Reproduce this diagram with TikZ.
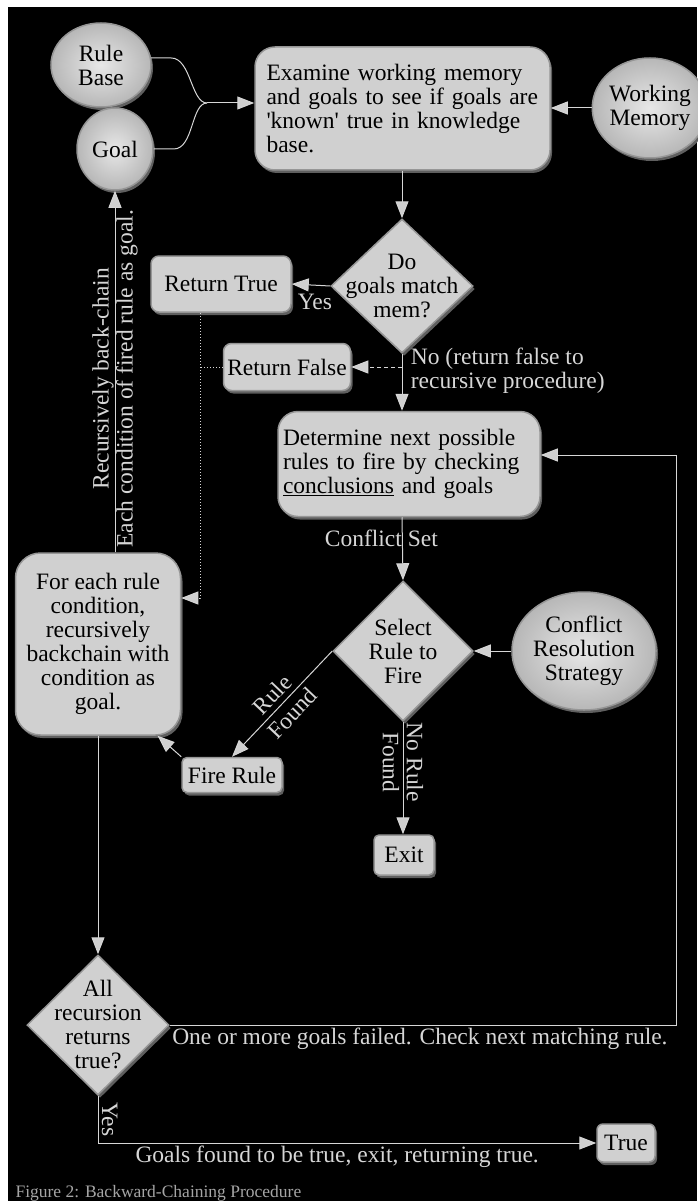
\documentclass[tikz,border=0pt]{standalone}
\usepackage{fontspec}
\setmainfont{Liberation Serif}
\usetikzlibrary{arrows.meta,shapes.geometric,shadows}
\definecolor{boxfill}{RGB}{208,208,208}
\definecolor{boxrim}{RGB}{150,150,150}
\definecolor{boxshade}{RGB}{95,95,95}
\definecolor{wire}{RGB}{214,214,214}
\definecolor{captext}{RGB}{165,165,165}
\tikzset{
  every node/.style={font=\fontsize{23.5}{24}\selectfont},
  schaduw/.style={drop shadow={shadow xshift=2pt,shadow yshift=-3pt,fill=boxshade,opacity=1}},
  blok/.style={rectangle, rounded corners=8pt, fill=boxfill, draw=boxrim, line width=1.5pt,
    inner sep=0pt, align=center, schaduw},
  bal/.style={ellipse, inner sep=0pt, draw=boxrim, line width=1.5pt, align=center,
    inner color=boxfill!50!white, outer color=boxfill!88!black, schaduw},
  ruit/.style={diamond, inner sep=0pt, fill=boxfill, draw=boxrim, line width=1.5pt, schaduw},
  lbl/.style={text=wire},
  lijn/.style={draw=wire, line width=1pt},
  pijl/.style={lijn, -{Triangle[length=17pt,width=13pt,fill=boxfill]}},
}
\begin{document}
\begin{tikzpicture}[x=1pt, y=-1pt]
\useasboundingbox (0,0) rectangle (697,1201);
\fill[black] (8,7) rectangle (697,1201);

\node[bal, minimum width=100pt, minimum height=84pt] (rulebase) at (101,65) {Rule\\Base};
\node[bal, minimum width=76pt, minimum height=82pt] (goal) at (115,149) {Goal};
\node[blok, rounded corners=20pt, text width=272pt, inner xsep=11.5pt, minimum height=123pt, align=left]
  (examine) at (402.5,108.5) {Examine working memory\\and goals to see if goals are\\\textquotesingle known\textquotesingle\ true in knowledge\\base.};
\node[bal, minimum width=94pt, minimum height=100pt] (workmem) at (650,108) {Working\\Memory};

\node[ruit, minimum width=142pt, minimum height=134pt] (match) at (402,286) {};
\node[align=center] (matchtxt) at (match) {Do\\goals match\\mem?};
\node[blok, minimum width=140pt, minimum height=56pt] (rettrue) at (221,284) {Return True};
\node[blok, minimum width=127pt, minimum height=47pt] (retfalse) at (287,367) {Return False};

\node[blok, rounded corners=20pt, text width=252pt, inner xsep=5pt, minimum height=105pt, align=left]
  (determine) at (409,464) {Determine next possible\\rules to fire by checking\\\underline{conclusions} and goals};

\node[ruit, minimum width=140pt, minimum height=140pt] (select) at (403,651) {};
\node[align=center] (selecttxt) at (select) {Select\\Rule to\\Fire};
\node[bal, minimum width=120pt, minimum height=118pt] (conflres) at (584,651) {Conflict\\Resolution\\Strategy};

\node[blok, rounded corners=25pt, minimum width=165pt, minimum height=182pt] (foreach) at (98,644)
  {For each rule\\condition,\\recursively\\backchain with\\condition as\\goal.};
\node[blok, rounded corners=5pt, minimum width=100pt, minimum height=35pt] (firerule) at (232,775) {Fire Rule};
\node[blok, rounded corners=5pt, minimum width=60pt, minimum height=40pt] (exit) at (404,855) {Exit};

\node[ruit, minimum width=142pt, minimum height=140pt] (allrec) at (98,1025) {};
\node[align=center] (allrectxt) at (allrec) {All\\recursion\\returns\\true?};
\node[blok, rounded corners=6pt, minimum width=58pt, minimum height=38pt] (truebox) at (626,1143) {True};

\coordinate (merge) at (207,103);
\coordinate (dottop) at (200,313);
\coordinate (dotbend) at (200,598);
\coordinate (loopc) at (676,455);

\draw[lijn] (rulebase.8) -- ++(20,0) .. controls +(20,0) and +(-16,0) .. (merge);
\draw[lijn] (goal.east) -- ++(20,0) .. controls +(20,0) and +(-16,0) .. (merge);
\draw[pijl] (merge) -- (examine.west |- merge);
\draw[pijl] (workmem.west) -- (examine.east |- workmem.west);
\draw[pijl] (examine.south -| match.north) -- (match.north);

\draw[pijl] (match.west) -- node[lbl, below=5pt, pos=0.4] {Yes} (rettrue.east);
\draw[pijl] (match.south) -- node[lbl, anchor=west, align=left, pos=0.3, xshift=5pt]
  {No (return false to\\recursive procedure)} (match.south |- determine.north);
\draw[pijl, dash pattern=on 4pt off 3pt] (match.south |- retfalse.east) -- (retfalse.east);
\draw[lijn, dotted] (retfalse.west) -- (retfalse.west -| dottop);
\draw[pijl, dotted] (dottop) |- (foreach.east |- dotbend);

\draw[pijl] (match.south |- determine.south) -- node[lbl, pos=0.33, xshift=-21pt] {Conflict Set} (select.north);
\draw[pijl] (conflres.west) -- (select.east);
\draw[pijl] (select.west) -- node[lbl, sloped, align=center, midway] {Rule\\[3pt]Found} (firerule.north);
\draw[pijl] (select.south) -- node[lbl, pos=0.36, rotate=-90, align=center] {No Rule\\Found} (select.south |- exit.north);
\draw[pijl] (firerule.north west) -- (foreach.-57);

\draw[pijl] (goal.south |- foreach.north) -- node[lbl, pos=0.48, rotate=90, align=center]
  {Recursively back-chain\\Each condition of fired rule as goal.} (goal.south);
\draw[pijl] (foreach.south) -- (allrec.north);

\draw[pijl] (allrec.east) -| node[lbl, pos=0, anchor=north west, inner sep=2pt]
  {One or more goals failed. Check next matching rule.} (loopc) -- (determine.east |- loopc);
\draw[pijl] (allrec.south) |- node[lbl, pos=0.25, rotate=-90, anchor=south] {Yes}
  node[lbl, pos=0.74, anchor=north, inner sep=2pt] {Goals found to be true, exit, returning true.} (truebox.west);

\node[font=\fontsize{17.5}{18}\selectfont, text=captext, anchor=west] (caption) at (12,1193)
  {Figure 2: Backward-Chaining Procedure};
\end{tikzpicture}
\end{document}
